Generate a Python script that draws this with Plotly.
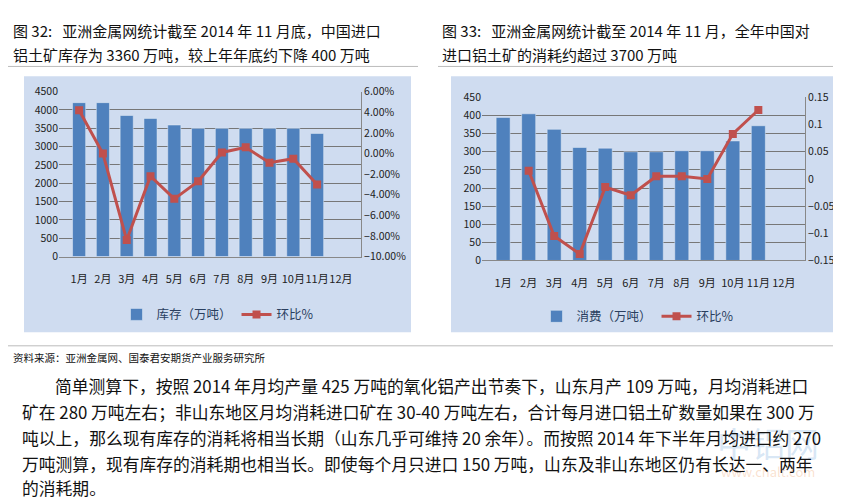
import plotly.graph_objects as go

months = ["1月","2月","3月","4月","5月","6月","7月","8月","9月","10月","11月","12月"]
stock = [4200,4200,3850,3770,3590,3500,3500,3500,3500,3500,3360,None]
stock_mom = [4.2,0.0,-8.4,-2.2,-4.4,-2.7,0.1,0.6,-0.9,-0.5,-3.0,None]
cons = [395,405,362,312,310,300,300,303,303,330,372,None]
cons_mom = [None,0.015,-0.105,-0.138,-0.015,-0.03,0.005,0.005,0.0,0.083,0.127,None]

W,H = 841,501
def px(x): return x/W
def py(y): return 1-y/H

BAR = "#4f81bd"; LINE = "#c0504d"
FONT = "Noto Sans CJK SC"
fig = go.Figure()
fig.add_trace(go.Bar(x=months,y=stock,name="库存（万吨）",marker_color=BAR,width=0.55,xaxis="x",yaxis="y",legend="legend"))
fig.add_trace(go.Scatter(x=months,y=stock_mom,name="环比%",mode="lines+markers",line=dict(color=LINE,width=3),
    marker=dict(symbol="square",size=8,color=LINE),xaxis="x",yaxis="y2",legend="legend"))
fig.add_trace(go.Bar(x=months,y=cons,name="消费（万吨）",marker_color=BAR,width=0.55,xaxis="x2",yaxis="y3",legend="legend2"))
fig.add_trace(go.Scatter(x=months,y=cons_mom,name="环比%",mode="lines+markers",line=dict(color=LINE,width=3),
    marker=dict(symbol="square",size=8,color=LINE),xaxis="x2",yaxis="y4",legend="legend2"))

ax = dict(showline=True,linecolor="#888",ticks="outside",ticklen=12,tickcolor="rgba(0,0,0,0)",tickangle=0,
          tickfont=dict(size=11,family=FONT,color="#222"),fixedrange=True)
ay = dict(showgrid=True,gridcolor="#777",gridwidth=1,zeroline=False,tickfont=dict(size=10.5,family=FONT,color="#222"),showline=False)
fig.update_layout(
    width=W,height=H,margin=dict(l=0,r=0,t=0,b=0),paper_bgcolor="white",plot_bgcolor="white",
    showlegend=True,bargap=0.45,
    xaxis=dict(ax,domain=[px(51),px(353)],anchor="y"),
    yaxis=dict(ay,domain=[py(248),py(78)],range=[0,4500],dtick=500),
    yaxis2=dict(ay,overlaying="y",side="right",range=[-10,6],dtick=2,tickformat=".2f",ticksuffix="%",showgrid=False,anchor="x",showline=True,linecolor="#888"),
    xaxis2=dict(ax,domain=[px(474),px(797)],anchor="y3"),
    yaxis3=dict(ay,domain=[py(252),py(84)],range=[0,450],dtick=50,anchor="x2"),
    yaxis4=dict(ay,overlaying="y3",side="right",range=[-0.15,0.15],dtick=0.05,showgrid=False,anchor="x2",showline=True,linecolor="#888"),
    legend=dict(orientation="h",x=px(210),xanchor="center",y=py(308),yanchor="middle",bgcolor="rgba(0,0,0,0)",font=dict(size=12.5,family=FONT)),
    legend2=dict(orientation="h",x=px(630),xanchor="center",y=py(310),yanchor="middle",bgcolor="rgba(0,0,0,0)",font=dict(size=12.5,family=FONT)),
    separators=".-",
)
shapes=[]
for x0,x1 in [(16,403),(443,837)]:
    shapes.append(dict(type="rect",xref="paper",yref="paper",x0=px(x0),x1=px(x1),y0=py(326),y1=py(62),
        fillcolor="#cfdcf0",line=dict(width=0),layer="below"))
shapes.append(dict(type="line",xref="paper",yref="paper",x0=0,x1=px(410),y0=py(52),y1=py(52),line=dict(color="#bbb",width=1)))
shapes.append(dict(type="line",xref="paper",yref="paper",x0=px(430),x1=1,y0=py(52),y1=py(52),line=dict(color="#bbb",width=1)))
shapes.append(dict(type="line",xref="paper",yref="paper",x0=0,x1=1,y0=py(340),y1=py(340),line=dict(color="#bbb",width=1)))
fig.update_layout(shapes=shapes)

def txt(x,y,s,size=15,color="#111",anchor="left"):
    fig.add_annotation(x=px(x),y=py(y),xref="paper",yref="paper",text=s,showarrow=False,xanchor=anchor,yanchor="middle",
        font=dict(size=size,family=FONT,color=color))
txt(3,15,"图 32:   亚洲金属网统计截至 2014 年 11 月底，中国进口",15)
txt(3,40,"铝土矿库存为 3360 万吨，较上年年底约下降 400 万吨",15)
txt(432,15,"图 33:   亚洲金属网统计截至 2014 年 11 月，全年中国对",15)
txt(432,40,"进口铝土矿的消耗约超过 3700 万吨",15)
txt(3,352,"资料来源：亚洲金属网、国泰君安期货产业服务研究所",10.5)
txt(760,440,"中铝网",34,"rgba(120,170,220,0.3)","center")
txt(760,470,"www.chalt.com",13,"rgba(240,170,120,0.35)","center")
lines=["简单测算下，按照 2014 年月均产量 425 万吨的氧化铝产出节奏下，山东月产 109 万吨，月均消耗进口",
"矿在 280 万吨左右；非山东地区月均消耗进口矿在 30-40 万吨左右，合计每月进口铝土矿数量如果在 300 万",
"吨以上，那么现有库存的消耗将相当长期（山东几乎可维持 20 余年）。而按照 2014 年下半年月均进口约 270",
"万吨测算，现有库存的消耗期也相当长。即使每个月只进口 150 万吨，山东及非山东地区仍有长达一、两年",
"的消耗期。"]
ys=[381,408,435,462,487]
for i,(s,y) in enumerate(zip(lines,ys)):
    txt(45 if i==0 else 12,y,s,16.8)
fig.write_html("out.html")
